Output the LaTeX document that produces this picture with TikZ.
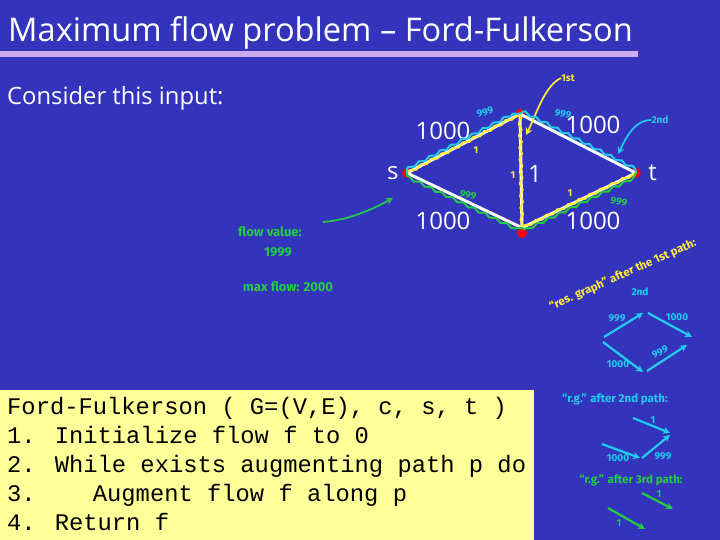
\documentclass[tikz,border=0pt]{standalone}
\usepackage{fontspec}
\setmainfont{Open Sans}
\newfontfamily\handfont{Fira Sans}
\newfontfamily\codefont{Liberation Mono}
\usetikzlibrary{arrows.meta,positioning,decorations.pathmorphing}
\definecolor{slidebg}{HTML}{3333BB}
\definecolor{rulelilac}{HTML}{CCAAEE}
\definecolor{codebg}{HTML}{FFFF99}
\definecolor{penyellow}{HTML}{FFEE33}
\definecolor{pencyan}{HTML}{22CCEE}
\definecolor{pengreen}{HTML}{22CC44}

\begin{document}
\begin{tikzpicture}[
  x=1pt, y=-1pt,
  vertex/.style={circle, fill=red, inner sep=0pt, minimum size=10pt},
  caplabel/.style={text=white, font=\fontsize{24}{26}\selectfont, inner sep=0pt},
  edgeline/.style={white, line width=3pt},
  wavy/.style={line width=2pt, decorate, decoration={snake, amplitude=1.3pt, segment length=12pt, raise=#1}},
  hand/.style={font=\handfont\bfseries\fontsize{10}{11}\selectfont, inner sep=0pt},
  bighand/.style={hand, font=\handfont\bfseries\fontsize{13}{14}\selectfont},
  noteline/.style={hand, font=\handfont\bfseries\fontsize{11.5}{12}\selectfont},
  penarr/.style={-{Stealth[length=7pt,width=7pt]}, line width=1.7pt},
  thickarr/.style={-{Stealth[length=7pt,width=7pt]}, line width=2.2pt}
]
\useasboundingbox (0,0) rectangle (720,540);
\fill[slidebg] (0,0) rectangle (720,540);

% --- Title ---
\node[anchor=west, text=white, font=\fontsize{32.6}{34}\selectfont, inner sep=0pt] (title) at (8,33) {Maximum flow problem -- Ford-Fulkerson};
\fill[rulelilac] (0,51) rectangle (638,57);
\node[anchor=west, text=white, font=\fontsize{23.8}{25}\selectfont, inner sep=0pt] (intro) at (7,98) {Consider this input:};

% --- Graph ---
\node[vertex] (s) at (407,173) {};
\node[vertex] (u) at (520,114) {};
\node[vertex] (v) at (522,233) {};
\node[vertex] (t) at (636,173) {};
\node[caplabel, left=3pt of s] (slabel) {s};
\node[caplabel, right=7pt of t] (tlabel) {t};

\draw[edgeline] (s.center) -- (u.center);
\draw[edgeline] (u.center) -- (t.center);
\draw[edgeline] (s.center) -- (v.north);
\draw[edgeline] (v.north) -- (t.center);
\draw[edgeline] (u.center) -- (v.north);

\node[caplabel] (su) at (443,131) {1000};
\node[caplabel] (ut) at (593,125) {1000};
\node[caplabel] (sv) at (443,221) {1000};
\node[caplabel] (vt) at (593,221) {1000};
\node[caplabel] (uv) at (535,174) {1};

% --- First path ---
\draw[penyellow, wavy=0pt] (s.center) -- (u.center);
\draw[penyellow, wavy=0pt] (u.center) -- (v.north);
\draw[penyellow, wavy=0pt] (v.north) -- (t.center);
\node[hand, text=penyellow] (y1) at (476,150) {1};
\node[hand, text=penyellow] (y2) at (513,175) {1};
\node[hand, text=penyellow] (y3) at (570,193) {1};
\node[hand, text=penyellow] (first) at (568,78) {1st};
\coordinate (firsthit) at (526,135);
\draw[penarr, penyellow] (first.west) .. controls (545,85) and (536,115) .. (firsthit);

% --- Second path ---
\draw[pencyan, wavy=3.5pt] (s.center) -- (u.center);
\draw[pencyan, wavy=3.5pt] (u.center) -- (t.center);
\node[hand, text=pencyan, rotate=20] (c1) at (485,112) {999};
\node[hand, text=pencyan, rotate=-15] (c2) at (563,114) {999};
\node[hand, text=pencyan] (second) at (660,120) {2nd};
\coordinate (secondhit) at (618,154);
\draw[penarr, pencyan] (second.west) .. controls (634,120) and (626,138) .. (secondhit);

% --- Third path ---
\draw[pengreen, wavy=-3.5pt] (s.center) -- (v.north);
\draw[pengreen, wavy=-3.5pt] (v.north) -- (t.center);
\node[hand, text=pengreen, rotate=-15] (g1) at (468,195) {999};
\node[hand, text=pengreen, rotate=-10] (g2) at (619,202) {999};

\node[bighand, text=pengreen] (flowval) at (270,232) {flow value:};
\node[bighand, text=pengreen] (flownum) at (278,252) {1999};
\node[bighand, text=pengreen] (maxflow) at (288,287) {max flow: 2000};
\coordinate (flowfoot) at (323,222);
\coordinate (flowhit) at (393,198);
\draw[penarr, pengreen] (flowfoot) .. controls (350,220) and (375,208) .. (flowhit);

% --- Residual graph after 1st path ---
\node[noteline, text=penyellow, rotate=24] (rg1) at (623,275) {“res. graph” after the 1st path:};
\node[hand, text=pencyan] (rgsecond) at (640,292) {2nd};
\coordinate (a1) at (604,337); \coordinate (a2) at (643,313);
\coordinate (a3) at (648,313); \coordinate (a4) at (692,337);
\coordinate (a5) at (603,342); \coordinate (a6) at (643,372);
\coordinate (a7) at (647,371); \coordinate (a8) at (687,345);
\draw[thickarr, pencyan] (a1) -- (a2);
\draw[thickarr, pencyan] (a3) -- (a4);
\draw[thickarr, pencyan] (a5) -- (a6);
\draw[thickarr, pencyan] (a7) -- (a8);
\node[hand, text=pencyan] (l1) at (617,318) {999};
\node[hand, text=pencyan] (l2) at (677,317) {1000};
\node[hand, text=pencyan] (l3) at (618,364) {1000};
\node[hand, text=pencyan, rotate=25] (l4) at (660,352) {999};

% --- After 2nd path ---
\node[noteline, text=pencyan] (rg2) at (615,399) {“r.g.” after 2nd path:};
\coordinate (b1) at (633,418); \coordinate (b2) at (670,433);
\coordinate (b3) at (642,458); \coordinate (b4) at (670,435);
\coordinate (b5) at (602,444); \coordinate (b6) at (640,458);
\draw[thickarr, pencyan] (b1) -- (b2);
\draw[thickarr, pencyan] (b3) -- (b4);
\draw[thickarr, pencyan] (b5) -- (b6);
\node[hand, text=pencyan] (m1) at (653,420) {1};
\node[hand, text=pencyan] (m2) at (618,458) {1000};
\node[hand, text=pencyan] (m3) at (663,456) {999};

% --- After 3rd path ---
\node[noteline, text=pengreen] (rg3) at (631,480) {“r.g.” after 3rd path:};
\coordinate (d1) at (642,493); \coordinate (d2) at (673,509);
\coordinate (d3) at (608,508); \coordinate (d4) at (645,529);
\draw[thickarr, pengreen] (d1) -- (d2);
\draw[thickarr, pengreen] (d3) -- (d4);
\node[hand, text=pengreen] (n1) at (659,494) {1};
\node[hand, text=pengreen] (n2) at (619,523) {1};

% --- Pseudocode ---
\fill[codebg] (0,390) rectangle (534,540);
\node[anchor=north west, inner sep=0pt, align=left, text=black, font=\codefont\fontsize{23.8}{29}\selectfont] (code) at (7,397) {Ford-Fulkerson ( G=(V,E), c, s, t )\\1. Initialize flow f to 0\\2. While exists augmenting path p do\\3.\ \ \ \ Augment flow f along p\\4. Return f};
\end{tikzpicture}
\end{document}
